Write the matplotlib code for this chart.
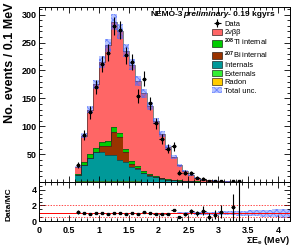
import numpy as np
import matplotlib
matplotlib.use("Agg")
import matplotlib.pyplot as plt
from matplotlib.patches import Patch
from matplotlib.ticker import MultipleLocator, FormatStrFormatter

plt.rcParams['font.family'] = ['Liberation Sans', 'DejaVu Sans']
plt.rcParams['font.weight'] = 'bold'
plt.rcParams['mathtext.fontset'] = 'custom'
plt.rcParams['mathtext.rm'] = 'Liberation Sans'
plt.rcParams['mathtext.bf'] = 'Liberation Sans:bold'
plt.rcParams['mathtext.it'] = 'Liberation Sans:italic'

# bin edges, 0.1 MeV bins from 0.6 to 4.2 MeV
edges = np.round(np.arange(0.6, 4.21, 0.1), 2)

# MC components (events / bin), stacked bottom -> top
radon = [0.4, 0.5, 0.5, 0.5, 0.5, 0.5, 0.4, 0.4, 0.4, 0.3, 0.3, 0.3, 0.25, 0.2, 0.2, 0.15, 0.1, 0.1,
         0.08, 0.06, 0.05, 0.04, 0.03, 0.02, 0.02, 0.01, 0.01, 0, 0, 0, 0, 0, 0, 0, 0, 0]
externals = [0.8, 0.9, 1.0, 1.0, 1.0, 1.0, 0.9, 0.9, 0.8, 0.8, 0.7, 0.6, 0.5, 0.45, 0.4, 0.3, 0.25, 0.2,
             0.15, 0.1, 0.08, 0.06, 0.05, 0.04, 0.03, 0.02, 0.02, 0.01, 0.01, 0.01, 0, 0, 0, 0, 0, 0]
internals = [12, 28.5, 41.5, 51.5, 52.5, 46.5, 46.5, 37.5, 34.5, 26.5, 21.5, 14.8, 10.8, 7.5, 5.7, 4, 2.8, 1.9,
             1.3, 0.9, 0.6, 0.45, 0.3, 0.2, 0.15, 0.1, 0.07, 0.05, 0.03, 0.02, 0.01, 0.01, 0, 0, 0, 0]
bi207 = [0.3, 1.2, 0.8, 1, 10, 16, 42, 42, 18, 5, 2.5, 1.2, 0.6, 0.3, 0.2, 0.1, 0.05, 0,
         0, 0, 0, 0, 0, 0, 0, 0, 0, 0, 0, 0, 0, 0, 0, 0, 0, 0]
tl208 = [1.5, 5, 6, 6.5, 8, 9, 8, 6.5, 6, 6, 4, 2.5, 2, 1.5, 1.2, 1, 0.8, 0.6,
         0.5, 0.4, 0.3, 0.25, 0.2, 0.15, 0.1, 0.08, 0.05, 0.03, 0.02, 0.01, 0, 0, 0, 0, 0, 0]
bb2v = [12, 47, 80, 114.5, 144, 172, 189, 183, 176, 172, 152, 140, 122, 99, 78, 56.5, 41, 27,
        18, 11.5, 7, 3.7, 2.9, 2.1, 1.4, 0.9, 0.42, 0.09, 0.05, 0.04, 0.03, 0.02, 0.015, 0.01, 0.008, 0.005]

# relative MC uncertainty per bin
rel_unc = [0.06, 0.05, 0.05, 0.05, 0.05, 0.05, 0.05, 0.05, 0.05, 0.05, 0.05, 0.05, 0.05, 0.05, 0.06, 0.07,
           0.08, 0.1, 0.12, 0.14, 0.16, 0.18, 0.2, 0.22, 0.24, 0.26, 0.28, 0.3, 0.33, 0.36, 0.4, 0.44,
           0.48, 0.52, 0.56, 0.6]

# observed data counts
data = [31, 84, 125, 170, 212, 232, 280, 273, 227, 215, 155, 185, 141, 105, 77, 60, 64, 17,
        17, 16, 8, 6, 2, 2, 2, 0, 1, 1, 0, 0, 0, 0, 0, 0, 0, 0]

layers = [(radon, '#ffcc00'), (externals, '#33ee33'), (internals, '#009999'),
          (bi207, '#993300'), (tl208, '#00cc00'), (bb2v, '#ff6666')]
labels = ['Data', '2\u03bd\u03b2\u03b2', r'$^{208}$Tl internal', r'$^{207}$Bi internal',
          'Internals', 'Externals', 'Radon', 'Total unc.']
band_fc = (0.29, 0.42, 1.0, 0.4)
band_ec = (0.29, 0.42, 1.0, 0.7)
plt.rcParams['hatch.linewidth'] = 0.6

fig = plt.figure(figsize=(3.0, 2.47), dpi=100)
ax = fig.add_axes([0.13, 0.263, 0.837, 0.709])
rax = fig.add_axes([0.13, 0.105, 0.837, 0.158])

base = np.zeros(len(edges) - 1)
for vals, col in layers:
    top = base + np.array(vals)
    ax.stairs(top, edges, baseline=base, fill=True, color=col, lw=0)
    ax.stairs(top, edges, baseline=None, color='#222222', lw=0.4)
    base = top
total = base
unc = np.array(rel_unc)

ax.stairs(total * (1 + unc), edges, baseline=total * (1 - unc), fill=True,
          facecolor=band_fc, edgecolor=band_ec, hatch='xxxxx', lw=0)

d = np.array(data, dtype=float)
centers = edges[:-1] + 0.05
m = d > 0
eb = ax.errorbar(centers[m], d[m], yerr=np.sqrt(d[m]), xerr=0.035, fmt='s', ms=1.6,
                 color='k', elinewidth=0.8, capsize=0)

ax.set_xlim(0, 4.2)
ax.set_ylim(0, 314)
ax.set_yticks(np.arange(50, 301, 50))
ax.yaxis.set_minor_locator(MultipleLocator(10))
ax.xaxis.set_major_locator(MultipleLocator(0.5))
ax.xaxis.set_minor_locator(MultipleLocator(0.1))
ax.tick_params(axis='x', labelbottom=False)

# ratio panel
rax.stairs(1 + unc, edges, baseline=1 - unc, fill=True,
           facecolor=band_fc, edgecolor=band_ec, hatch='xxxxx', lw=0)
rax.axhline(1, color='red', lw=0.7)
rax.axhline(2, color='red', lw=0.5, ls=(0, (2, 2)))
rax.axhline(0.5, color='red', lw=0.5, ls=(0, (2, 2)))
ratio = d[m] / total[m]
rerr = np.sqrt(d[m]) / total[m]
rax.errorbar(centers[m], ratio, yerr=rerr, xerr=0.035, fmt='s', ms=1.4,
             color='k', elinewidth=0.8, capsize=0)
rax.set_xlim(0, 4.2)
rax.set_ylim(0, 5)
rax.set_yticks([0, 2, 4])
rax.yaxis.set_minor_locator(MultipleLocator(0.5))
rax.xaxis.set_major_locator(MultipleLocator(0.5))
rax.xaxis.set_minor_locator(MultipleLocator(0.1))
rax.xaxis.set_major_formatter(FormatStrFormatter('%g'))

for a in (ax, rax):
    a.tick_params(which='both', direction='in', top=True, right=True, width=0.6,
                  labelsize=6.5, pad=1.5)
    a.tick_params(which='major', length=4)
    a.tick_params(which='minor', length=2)
    for s in a.spines.values():
        s.set_linewidth(0.7)
rax.tick_params(axis='x', pad=3.5)

# header text
t1 = ax.text(0.445, 0.955, 'NEMO-3', transform=ax.transAxes, fontsize=6, va='center')
t2 = ax.annotate('preliminary', xy=(1, 0), xycoords=t1, va='bottom', fontsize=6,
                 fontstyle='italic')
ax.annotate('- 0.19 kgyrs', xy=(1, 0), xycoords=t2, va='bottom', fontsize=6)

handles = [eb] + [Patch(facecolor=c, edgecolor='k', lw=0.4) for _, c in layers[::-1]] + \
          [Patch(facecolor=band_fc, edgecolor=band_ec, hatch='xxxxx', lw=0)]
ax.legend(handles, labels, loc='upper left', bbox_to_anchor=(0.69, 0.925), frameon=False,
          prop={'size': 5.4, 'weight': 'normal'}, handlelength=1.35, handleheight=0.95,
          handletextpad=0.25, labelspacing=0.1, borderpad=0, borderaxespad=0)

fig.text(0.035, 0.99, 'No. events / 0.1 MeV', rotation=90, ha='center', va='top', fontsize=9)
fig.text(0.03, 0.174, 'Data/MC', rotation=90, ha='center', va='center', fontsize=6)
fig.text(0.967, 0.028, '\u03a3E$_\\mathbf{e}$ (MeV)', ha='right', va='center', fontsize=6.5)

fig.savefig('out.png', dpi=100)
